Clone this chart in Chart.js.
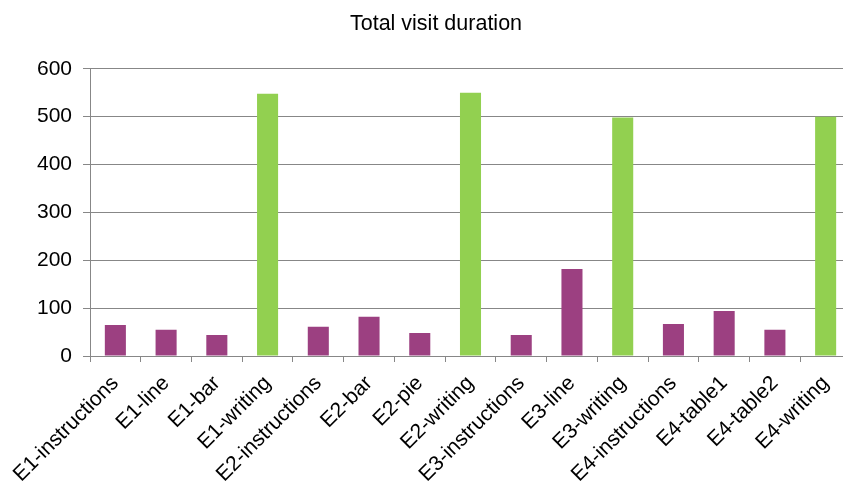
<!DOCTYPE html>
<html>
<head>
<meta charset="utf-8">
<title>Total visit duration</title>
<script src="https://cdn.jsdelivr.net/npm/chart.js@4.4.1/dist/chart.umd.min.js"></script>
<style>
    html, body {
        margin: 0;
        padding: 0;
        background: #fff;
        overflow: hidden;
    }
    #durationChart {
        display: block;
    }
</style>
</head>
<body>
<canvas id="durationChart" width="872" height="482"></canvas>
<script>
const tasks = [
    'E1-instructions', 'E1-line', 'E1-bar', 'E1-writing',
    'E2-instructions', 'E2-bar', 'E2-pie', 'E2-writing',
    'E3-instructions', 'E3-line', 'E3-writing',
    'E4-instructions', 'E4-table1', 'E4-table2', 'E4-writing'
];
const durations = [65, 55, 44, 548, 61, 82, 48, 550, 44, 182, 498, 67, 94, 55, 500];
const yTicks = [0, 100, 200, 300, 400, 500, 600];

document.addEventListener('DOMContentLoaded', function () {
    const ctx = document.getElementById('durationChart').getContext('2d');

    // writing tasks are shown in green, everything else in purple
    const barColors = tasks.map(name => name.endsWith('-writing') ? '#92D050' : '#9C4081');
    const axisGrey = '#878787';
    const font = 'Liberation Sans, Arial, sans-serif';

    // center the title over the whole canvas, not just the padded area
    const fullWidthTitle = {
        id: 'fullWidthTitle',
        afterLayout: function (chart) {
            if (chart.titleBlock) {
                chart.titleBlock.right = chart.width;
            }
        }
    };

    new Chart(ctx, {
        type: 'bar',
        data: {
            labels: tasks,
            datasets: [{
                data: durations,
                backgroundColor: barColors,
                borderWidth: 0,
                categoryPercentage: 1,
                barPercentage: 0.415
            }]
        },
        options: {
            responsive: false,
            animation: false,
            layout: {
                padding: { left: 0, right: 21, top: 0, bottom: 0 }
            },
            plugins: {
                legend: { display: false },
                tooltip: { enabled: false },
                title: {
                    display: true,
                    text: 'Total visit duration',
                    color: '#000',
                    font: { family: font, size: 21.5, weight: 'normal' },
                    padding: { top: 11, bottom: 32 }
                }
            },
            scales: {
                x: {
                    grid: {
                        display: true,
                        drawOnChartArea: false,
                        drawTicks: true,
                        tickLength: 6,
                        color: axisGrey,
                        offset: true
                    },
                    border: { display: true, color: axisGrey, width: 1 },
                    ticks: {
                        color: '#000',
                        font: { family: font, size: 21 },
                        minRotation: 45,
                        maxRotation: 45,
                        autoSkip: false,
                        padding: 9
                    },
                    afterFit: function (scale) {
                        scale.height = 126;
                    }
                },
                y: {
                    min: 0,
                    max: 600,
                    afterBuildTicks: function (scale) {
                        scale.ticks = yTicks.map(v => ({ value: v }));
                    },
                    grid: {
                        color: axisGrey,
                        lineWidth: 1,
                        drawTicks: true,
                        tickLength: 7
                    },
                    border: { display: true, color: axisGrey, width: 1 },
                    ticks: {
                        color: '#000',
                        font: { family: font, size: 21 },
                        padding: 11
                    },
                    afterFit: function (scale) {
                        scale.width = 90;
                    }
                }
            }
        },
        plugins: [fullWidthTitle]
    });
});
</script>
</body>
</html>
